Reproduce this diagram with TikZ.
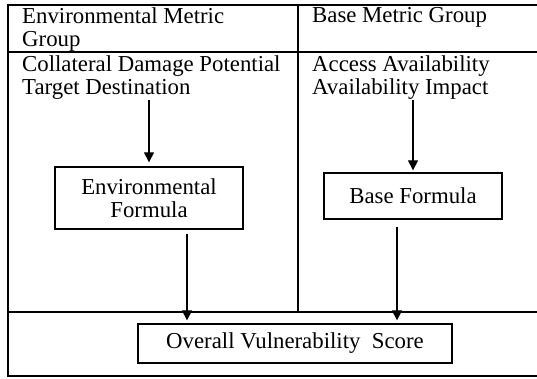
\documentclass[tikz,border=0pt]{standalone}
\usepackage{fontspec}
\setmainfont{Liberation Serif}
\usetikzlibrary{arrows.meta,positioning,calc}

\begin{document}
\begin{tikzpicture}[
  x=1pt, y=-1pt,
  frame/.style={line width=1.4pt, draw=black},
  label/.style={inner sep=0pt, anchor=north west, align=left,
    font=\fontsize{22.8}{23}\selectfont},
  formula/.style={draw=black, line width=1.3pt, align=center, inner sep=0pt,
    font=\fontsize{22.8}{23}\selectfont},
  arrow/.style={-{Triangle[length=10pt,width=10pt]}, line width=1.1pt, draw=black}
]
\useasboundingbox (0,0) rectangle (537,379);
% table frame
\draw[frame] (537,5) -- (8,5) -- (8,376) -- (537,376);
\draw[frame] (8,52) -- (537,52);
\draw[frame] (8,312) -- (537,312);
\draw[frame] (298,5) -- (298,312);
% group headings and metrics
\node[label] (envgroup) at (22,7.5) {Environmental Metric\\Group};
\node[label] (basegroup) at (312,7.5) {Base Metric Group};
\node[label] (envmetrics) at (22,55) {Collateral Damage Potential\\Target Destination};
\node[label] (basemetrics) at (312,55) {Access Availability\\Availability Impact};
% formulas
\node[formula, minimum width=188pt, minimum height=62pt] (envformula) at (149,198) {Environmental\\Formula};
\node[formula, minimum width=178pt, minimum height=46pt] (baseformula) at (413,196) {Base Formula};
\node[formula, minimum width=314pt, minimum height=39pt] (score) at (295,343.5) {Overall Vulnerability\ \ Score};
% arrows
\draw[arrow, shorten >=4pt] ([yshift=-1pt]envmetrics.south -| envformula.north) -- (envformula.north);
\draw[arrow, shorten >=2pt] ([yshift=-1pt]basemetrics.south -| baseformula.north) -- (baseformula.north);
\draw[arrow, shorten >=3pt] ([xshift=38pt,yshift=-4pt]envformula.south) -- ([xshift=38pt]envformula.south |- score.north);
\draw[arrow, shorten >=3pt] ([xshift=-16pt,yshift=-7pt]baseformula.south) -- ([xshift=-16pt]baseformula.south |- score.north);
\end{tikzpicture}
\end{document}
